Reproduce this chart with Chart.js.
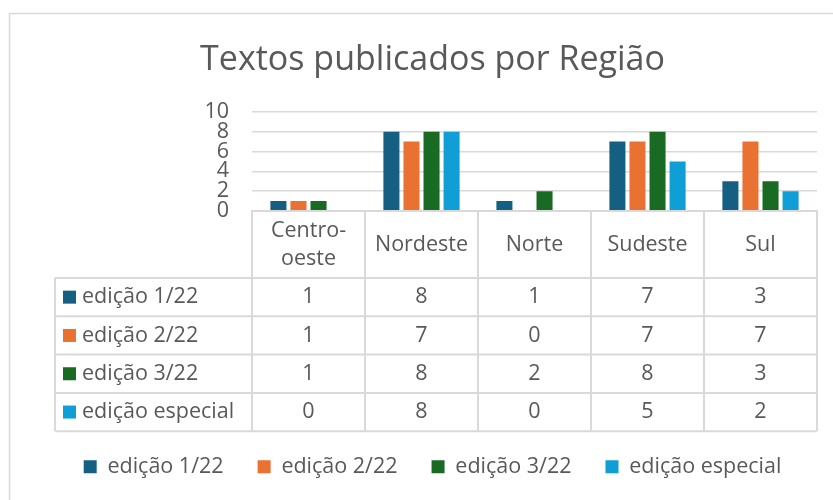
<!DOCTYPE html>
<html>
<head>
<meta charset="utf-8">
<script src="https://cdn.jsdelivr.net/npm/chart.js@4/dist/chart.umd.min.js"></script>
<style>
html,body{margin:0;padding:0;background:#fff;}
#wrap{width:833px;height:500px;position:relative;}
</style>
</head>
<body>
<div id="wrap"><canvas id="c" width="833" height="500"></canvas></div>
<script>
const categories = [["Centro-","oeste"], "Nordeste", "Norte", "Sudeste", "Sul"];
const seriesNames = ["edição 1/22", "edição 2/22", "edição 3/22", "edição especial"];
const edicao1 = [1, 8, 1, 7, 3];
const edicao2 = [1, 7, 0, 7, 7];
const edicao3 = [1, 8, 2, 8, 3];
const edicaoEspecial = [0, 8, 0, 5, 2];
const colors = ["#156082", "#E97132", "#196B24", "#0F9ED5"];
const yTicks = [0, 2, 4, 6, 8, 10];

const FONT = "'Open Sans', sans-serif";
const FS = 21.5;
const TXT = "#595959";
const LINE = "#d9d9d9";
const allSeries = [edicao1, edicao2, edicao3, edicaoEspecial];

const borderPlugin = {
  id: 'outerBorder',
  beforeDraw(chart) {
    const ctx = chart.ctx;
    ctx.save();
    ctx.strokeStyle = LINE;
    ctx.lineWidth = 1.5;
    ctx.strokeRect(9.5, 13.5, 900, 600);
    ctx.restore();
  }
};

const tablePlugin = {
  id: 'dataTable',
  afterDraw(chart) {
    const ctx = chart.ctx;
    const xs = chart.scales.x;
    const area = chart.chartArea;
    const n = categories.length;
    const cw = (xs.right - xs.left) / n;
    const top = area.bottom;
    const headH = 67;
    const rowH = 38.3;
    const labelLeft = 55;
    const rowsTop = top + headH;
    const bottom = rowsTop + rowH * allSeries.length;
    ctx.save();
    ctx.strokeStyle = LINE;
    ctx.lineWidth = 2;
    ctx.beginPath();
    ctx.moveTo(xs.left, top); ctx.lineTo(xs.right, top);
    for (let r = 0; r <= allSeries.length; r++) {
      const y = rowsTop + r * rowH;
      ctx.moveTo(labelLeft, y); ctx.lineTo(xs.right, y);
    }
    for (let i = 0; i <= n; i++) {
      const x = xs.left + i * cw;
      ctx.moveTo(x, top); ctx.lineTo(x, bottom);
    }
    ctx.moveTo(labelLeft, rowsTop); ctx.lineTo(labelLeft, bottom);
    ctx.stroke();

    ctx.fillStyle = TXT;
    ctx.font = FS + "px " + FONT;
    ctx.textAlign = 'center';
    ctx.textBaseline = 'middle';
    categories.forEach((c, i) => {
      const cx = xs.left + (i + 0.5) * cw;
      if (Array.isArray(c)) {
        ctx.fillText(c[0], cx, top + headH / 2 - 14);
        ctx.fillText(c[1], cx, top + headH / 2 + 14);
      } else {
        ctx.fillText(c, cx, top + headH / 2);
      }
    });
    allSeries.forEach((vals, r) => {
      const cy = rowsTop + (r + 0.5) * rowH;
      vals.forEach((v, i) => {
        ctx.fillText(String(v), xs.left + (i + 0.5) * cw, cy);
      });
      ctx.fillStyle = colors[r];
      ctx.fillRect(63, cy - 6.5, 13, 13);
      ctx.fillStyle = TXT;
      ctx.textAlign = 'left';
      ctx.fillText(seriesNames[r], 82, cy);
      ctx.textAlign = 'center';
    });
    ctx.restore();
  }
};

new Chart(document.getElementById('c'), {
  type: 'bar',
  data: {
    labels: categories,
    datasets: allSeries.map((d, i) => ({
      label: seriesNames[i],
      data: d,
      backgroundColor: colors[i],
      borderWidth: 0,
      categoryPercentage: 0.71,
      barPercentage: 0.8
    }))
  },
  options: {
    responsive: false,
    animation: false,
    devicePixelRatio: 1,
    layout: { padding: { left: 48, right: 16, top: 0, bottom: 12.5 } },
    plugins: {
      title: {
        display: true,
        text: "Textos publicados por Região",
        color: TXT,
        font: { family: FONT, size: 34, weight: 'normal' },
        padding: { top: 40, bottom: 31 }
      },
      legend: {
        display: true,
        position: 'bottom',
        labels: {
          color: TXT,
          font: { family: FONT, size: FS },
          boxWidth: 13,
          boxHeight: 13,
          padding: 34
        }
      },
      tooltip: { enabled: false }
    },
    scales: {
      y: {
        min: 0, max: 10,
        afterFit(scale) { scale.width = 204; },
        afterBuildTicks(scale) { scale.ticks = yTicks.map(v => ({ value: v })); },
        ticks: { color: TXT, font: { family: FONT, size: FS, lineHeight: 1 }, padding: 23, autoSkip: false },
        grid: { color: LINE, lineWidth: 1.5, drawTicks: false },
        border: { display: false }
      },
      x: {
        afterFit(scale) { scale.height = 211; },
        ticks: { display: false },
        grid: { display: false, drawTicks: false },
        border: { display: true, color: LINE, width: 2 }
      }
    }
  },
  plugins: [borderPlugin, tablePlugin]
});
</script>
</body>
</html>
